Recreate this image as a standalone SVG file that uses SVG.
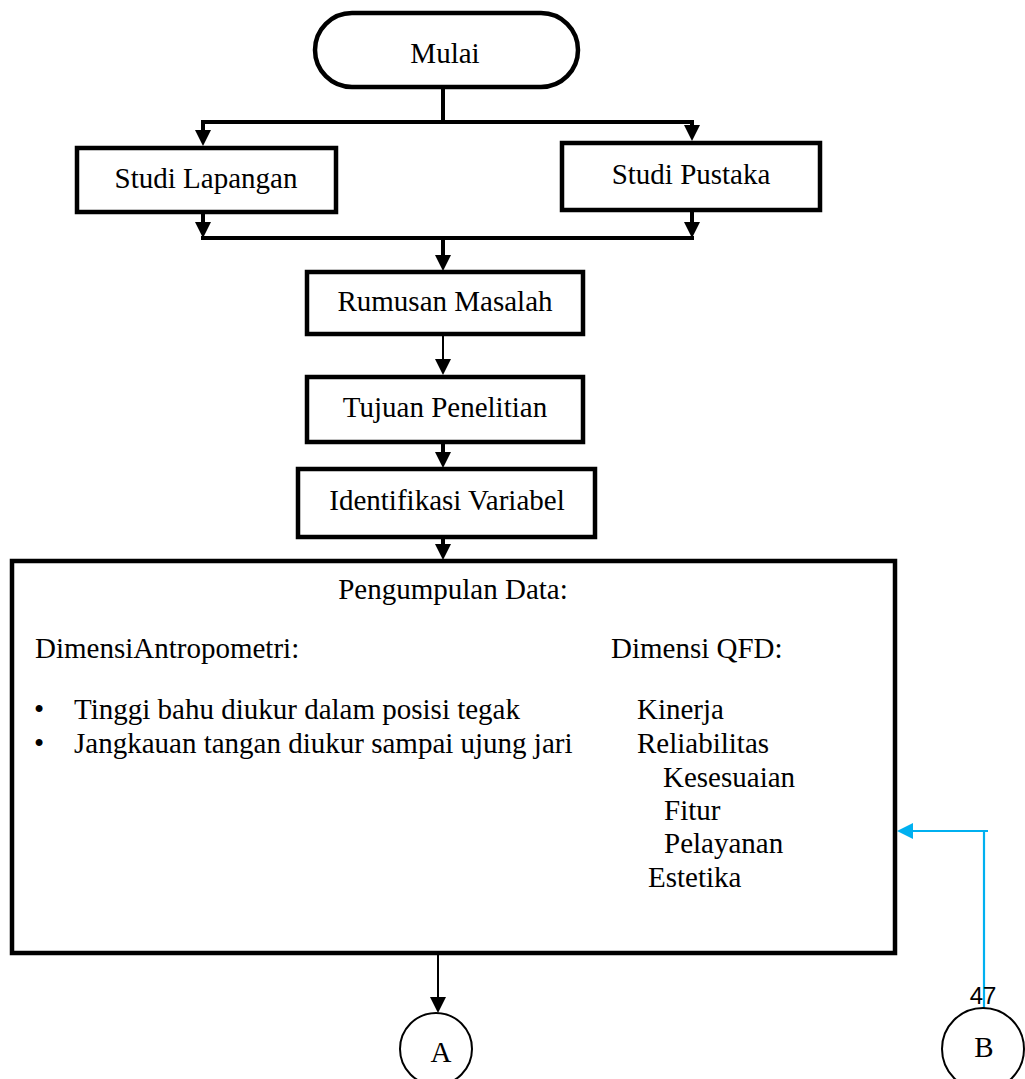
<svg xmlns="http://www.w3.org/2000/svg" width="1025" height="1079" viewBox="0 0 1025 1079">
<style>
.box{fill:#fff;stroke:#000;stroke-width:4.5}
.t{font-family:"Liberation Serif","Times New Roman",serif;font-size:29px;fill:#000}
.c{text-anchor:middle}
.thick{stroke:#000;stroke-width:4;fill:none}
.thin{stroke:#000;stroke-width:2;fill:none}
.blue{stroke:#00B0F0;stroke-width:2.2;fill:none}
.circ{fill:#fff;stroke:#000;stroke-width:2}
</style>
<defs>
<marker id="ah" markerUnits="userSpaceOnUse" viewBox="0 0 16 16" refX="0" refY="8" markerWidth="16" markerHeight="16" orient="auto"><path d="M0,0 L16,8 L0,16 z" fill="#000"/></marker>
<marker id="ahb" markerUnits="userSpaceOnUse" viewBox="0 0 16 16" refX="0" refY="8" markerWidth="16" markerHeight="16" orient="auto"><path d="M0,0 L16,8 L0,16 z" fill="#00B0F0"/></marker>
</defs>
<rect width="1025" height="1079" fill="#fff"/>
<g id="connectors">
<path class="thick" d="M443,87 V122"/>
<path class="thick" d="M201,122 H694"/>
<path class="thick" d="M203,122 V130" marker-end="url(#ah)"/>
<path class="thick" d="M692,122 V125" marker-end="url(#ah)"/>
<path class="thick" d="M203,212 V222" marker-end="url(#ah)"/>
<path class="thick" d="M692,210 V222" marker-end="url(#ah)"/>
<path class="thick" d="M201,238 H694"/>
<path class="thick" d="M443,238 V255" marker-end="url(#ah)"/>
<path class="thin" d="M443,334 V359" marker-end="url(#ah)"/>
<path class="thick" d="M443,442 V452" marker-end="url(#ah)"/>
<path class="thick" d="M443,537 V544" marker-end="url(#ah)"/>
<path class="thin" d="M438,953 V997" marker-end="url(#ah)"/>
<path class="blue" d="M984,1008 V831"/>
<path class="blue" d="M988,831 H913" marker-end="url(#ahb)"/>
</g>
<g id="mulai">
<rect class="box" x="315" y="13" width="263" height="74" rx="37" ry="37"/>
<text class="t c" x="445" y="63">Mulai</text>
</g>
<g id="studi-lapangan">
<rect class="box" x="77" y="148" width="259" height="64"/>
<text class="t c" x="206" y="188">Studi Lapangan</text>
</g>
<g id="studi-pustaka">
<rect class="box" x="562" y="143" width="258" height="67"/>
<text class="t c" x="691" y="184">Studi Pustaka</text>
</g>
<g id="rumusan">
<rect class="box" x="307" y="272" width="276" height="62"/>
<text class="t c" x="445" y="311">Rumusan Masalah</text>
</g>
<g id="tujuan">
<rect class="box" x="307" y="377" width="276" height="65"/>
<text class="t c" x="445" y="417">Tujuan Penelitian</text>
</g>
<g id="identifikasi">
<rect class="box" x="298" y="469" width="297" height="68"/>
<text class="t c" x="447" y="510">Identifikasi Variabel</text>
</g>
<g id="pengumpulan">
<rect class="box" x="12" y="561" width="883" height="392" stroke-width="5"/>
<text class="t c" x="453" y="599">Pengumpulan Data:</text>
<text class="t" x="35" y="658">DimensiAntropometri:</text>
<text class="t" x="611" y="658">Dimensi QFD:</text>
<text class="t" x="34" y="719">•</text>
<text class="t" x="74" y="719">Tinggi bahu diukur dalam posisi tegak</text>
<text class="t" x="34" y="753">•</text>
<text class="t" x="74" y="753">Jangkauan tangan diukur sampai ujung jari</text>
<text class="t" x="637" y="719">Kinerja</text>
<text class="t" x="637" y="753">Reliabilitas</text>
<text class="t" x="663" y="787">Kesesuaian</text>
<text class="t" x="664" y="820">Fitur</text>
<text class="t" x="664" y="853">Pelayanan</text>
<text class="t" x="648" y="887">Estetika</text>
</g>
<g id="connector-a">
<ellipse class="circ" cx="436" cy="1049" rx="36" ry="36"/>
<text class="t c" x="441" y="1062" font-size="27">A</text>
</g>
<g id="connector-b">
<ellipse class="circ" cx="983" cy="1049" rx="41" ry="41"/>
<text class="t c" x="984" y="1057" font-size="27">B</text>
</g>
<text x="983" y="1004" text-anchor="middle" font-family="Liberation Sans, Arial, sans-serif" font-size="24" fill="#000">47</text>
</svg>
